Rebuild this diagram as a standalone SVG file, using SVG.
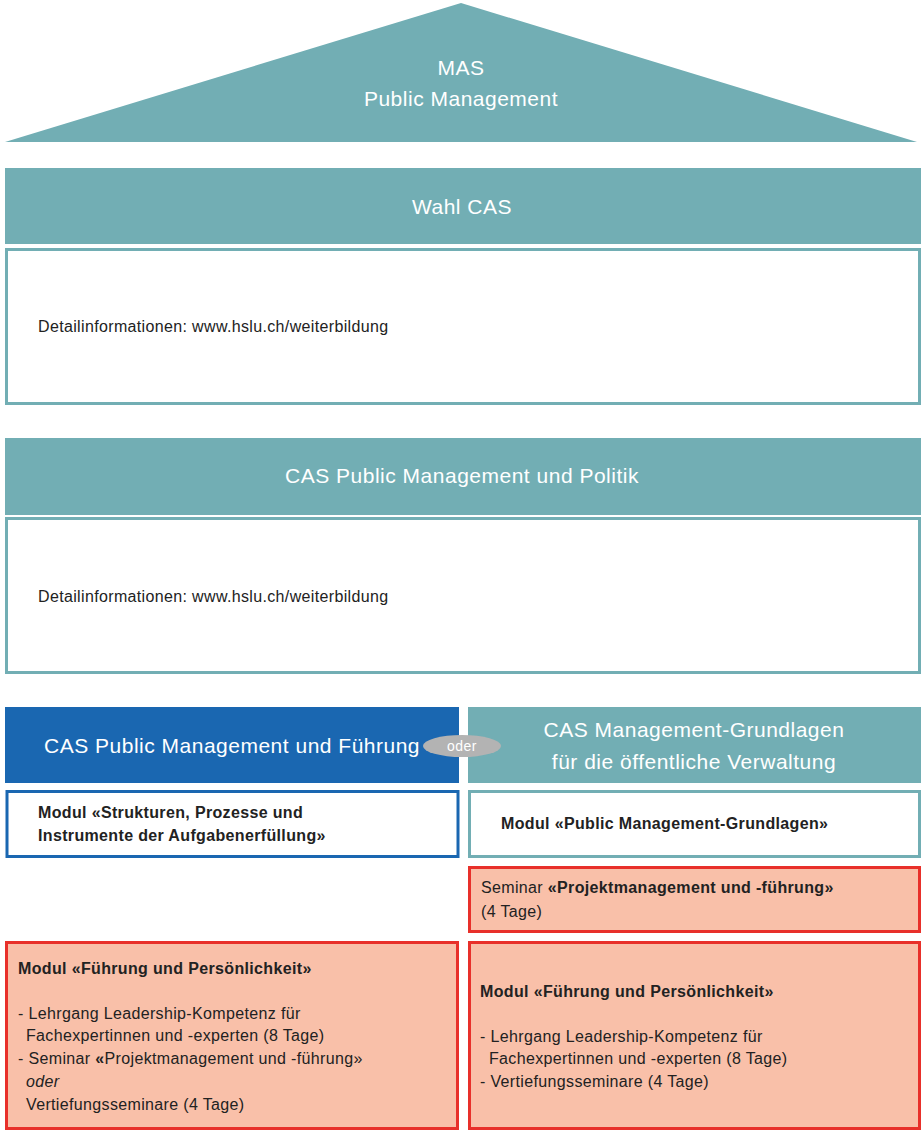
<svg xmlns="http://www.w3.org/2000/svg" width="921" height="1130" viewBox="0 0 921 1130">
<style>
.teal{fill:#72aeb4}
.hd{font-family:"Liberation Sans",Arial,sans-serif;font-size:21px;letter-spacing:0.5px;fill:#ffffff}
.tx{font-family:"Liberation Sans",Arial,sans-serif;font-size:16px;letter-spacing:0.35px;fill:#222222}
.b{font-weight:bold}
.wbox{fill:#ffffff;stroke:#72aeb4;stroke-width:3}
.red{fill:#f9c0a9;stroke:#e8302a;stroke-width:3}
</style>
<rect width="921" height="1130" fill="#ffffff"/>
<g id="mas">
<polygon class="teal" points="461,3 917,142 5,142"/>
<text class="hd" x="461" y="75" text-anchor="middle">MAS</text>
<text class="hd" x="461" y="106" text-anchor="middle">Public Management</text>
</g>
<g id="wahl-cas">
<rect class="teal" x="5" y="168" width="916" height="76"/>
<text class="hd" x="462" y="214" text-anchor="middle">Wahl CAS</text>
</g>
<g id="wahl-info">
<rect class="wbox" x="6.5" y="249.5" width="913" height="154"/>
<text class="tx" x="38" y="332">Detailinformationen: www.hslu.ch/weiterbildung</text>
</g>
<g id="cas-politik">
<rect class="teal" x="5" y="438" width="916" height="77"/>
<text class="hd" x="462" y="483" text-anchor="middle">CAS Public Management und Politik</text>
</g>
<g id="politik-info">
<rect class="wbox" x="6.5" y="518.5" width="913" height="154"/>
<text class="tx" x="38" y="602">Detailinformationen: www.hslu.ch/weiterbildung</text>
</g>
<g id="cas-fuehrung">
<rect x="5" y="707" width="454" height="76" fill="#1a67b1"/>
<text class="hd" x="44" y="753">CAS Public Management und Führung</text>
</g>
<g id="cas-grundlagen">
<rect class="teal" x="468" y="707" width="453" height="76"/>
<text class="hd" x="694" y="737" text-anchor="middle">CAS Management-Grundlagen</text>
<text class="hd" x="694" y="769" text-anchor="middle">für die öffentliche Verwaltung</text>
</g>
<g id="oder">
<ellipse cx="462" cy="746" rx="39" ry="11" fill="#b3b3b3"/>
<text x="462" y="751" text-anchor="middle" font-family="'Liberation Sans',Arial,sans-serif" font-size="14" letter-spacing="0.5" fill="#ffffff">oder</text>
</g>
<g id="modul-strukturen">
<rect x="7" y="791.5" width="451" height="65" fill="#ffffff" stroke="#1a67b1" stroke-width="3"/>
<text class="tx b" x="38" y="818">Modul «Strukturen, Prozesse und</text>
<text class="tx b" x="38" y="841">Instrumente der Aufgabenerfüllung»</text>
</g>
<g id="modul-grundlagen">
<rect class="wbox" x="469.5" y="791.5" width="450" height="65"/>
<text class="tx b" x="501" y="829">Modul «Public Management-Grundlagen»</text>
</g>
<g id="seminar-projekt">
<rect class="red" x="469.5" y="867.5" width="450" height="64"/>
<text class="tx" x="481" y="893">Seminar <tspan class="b">«Projektmanagement und -führung»</tspan></text>
<text class="tx" x="481" y="917">(4 Tage)</text>
</g>
<g id="modul-fuehrung-links">
<rect class="red" x="6.5" y="942.5" width="451" height="186"/>
<text class="tx b" x="18" y="974">Modul «Führung und Persönlichkeit»</text>
<text class="tx" x="18" y="1019">- Lehrgang Leadership-Kompetenz für</text>
<text class="tx" x="26" y="1041">Fachexpertinnen und -experten (8 Tage)</text>
<text class="tx" x="18" y="1064">- Seminar <tspan class="b">«</tspan>Projektmanagement und -führung»</text>
<text class="tx" x="26" y="1087" font-style="italic">oder</text>
<text class="tx" x="26" y="1110">Vertiefungsseminare (4 Tage)</text>
</g>
<g id="modul-fuehrung-rechts">
<rect class="red" x="469.5" y="942.5" width="450" height="186"/>
<text class="tx b" x="480" y="997">Modul «Führung und Persönlichkeit»</text>
<text class="tx" x="480" y="1042">- Lehrgang Leadership-Kompetenz für</text>
<text class="tx" x="489" y="1064">Fachexpertinnen und -experten (8 Tage)</text>
<text class="tx" x="480" y="1087">- Vertiefungsseminare (4 Tage)</text>
</g>
<g id="connectors"></g>
</svg>
